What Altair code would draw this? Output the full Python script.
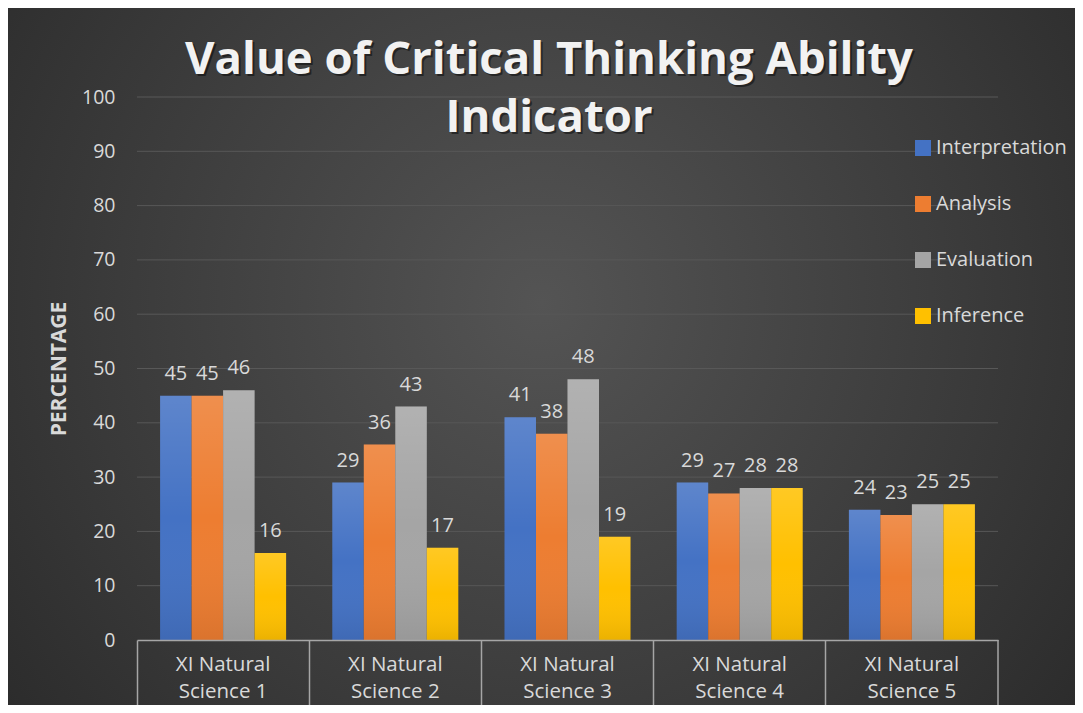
import altair as alt
import pandas as pd

categories = ["XI Natural Science 1", "XI Natural Science 2", "XI Natural Science 3",
              "XI Natural Science 4", "XI Natural Science 5"]
series = ["Interpretation", "Analysis", "Evaluation", "Inference"]
interpretation = [45, 29, 41, 29, 24]
analysis = [45, 36, 38, 27, 23]
evaluation = [46, 43, 48, 28, 25]
inference = [16, 17, 19, 28, 25]
colors = ["#4472c4", "#ed7d31", "#a5a5a5", "#ffc000"]
title_lines = ["Value of Critical Thinking Ability", "Indicator"]
y_ticks = list(range(0, 101, 10))

rows = []
for s, vals in zip(series, [interpretation, analysis, evaluation, inference]):
    for c, v in zip(categories, vals):
        rows.append({"category": c, "series": s, "value": v})
df = pd.DataFrame(rows)
one = pd.DataFrame({"a": [0]})
grid_df = pd.DataFrame({"value": y_ticks[1:]})

FONT = "Open Sans"
W, H = 861, 543
PL, PT, PR, PB = 129, 89, 77, 65

bg = alt.Chart(one).mark_rect(
    color=alt.RadialGradient(
        gradient="radial",
        stops=[alt.GradientStop(color="#545454", offset=0),
               alt.GradientStop(color="#3a3a3a", offset=0.55),
               alt.GradientStop(color="#242424", offset=1)],
        x1=0.5, y1=0.45, r1=0, x2=0.5, y2=0.45, r2=0.75)
).encode(x=alt.value(-PL), x2=alt.value(W + PR), y=alt.value(-PT), y2=alt.value(H + PB))

yscale = alt.Scale(domain=[0, 100], nice=False)

grid = alt.Chart(grid_df).mark_rule(color="#585858", strokeWidth=1).encode(
    y=alt.Y("value:Q", scale=yscale), x=alt.value(0), x2=alt.value(W))

xenc = alt.X("category:N", sort=categories, scale=alt.Scale(paddingInner=0, paddingOuter=0),
             axis=alt.Axis(title=None, bandPosition=0, tickSize=PB, tickColor="#a6a6a6",
                           tickWidth=1.5, domainColor="#a6a6a6", domainWidth=1.5,
                           labelExpr="['XI Natural', slice(datum.label, 11)]",
                           labelLineHeight=27, labelFontSize=20.5, labelColor="#d9d9d9",
                           labelFont=FONT, labelPadding=-51, labelAngle=0, grid=False,
                           zindex=1))
xoff = alt.XOffset("series:N", sort=series, scale=alt.Scale(paddingInner=0, paddingOuter=0.733))
yenc = alt.Y("value:Q", scale=yscale,
             axis=alt.Axis(values=y_ticks, title="PERCENTAGE", titleFontSize=21,
                           titleFont=FONT, titleFontWeight="bold", titleColor="#d9d9d9",
                           titlePadding=12, labelFontSize=19.5, labelColor="#d9d9d9",
                           labelFont=FONT, labelPadding=22, ticks=False, domain=False,
                           grid=False, zindex=1))

bars = alt.Chart(df).mark_bar().encode(
    x=xenc, xOffset=xoff, y=yenc,
    color=alt.Color("series:N", sort=series,
                    scale=alt.Scale(domain=series, range=colors),
                    legend=alt.Legend(title=None, orient="none", legendX=776, legendY=41,
                                      symbolType="square", symbolSize=256,
                                      symbolStrokeWidth=0, labelFontSize=20,
                                      labelColor="#d9d9d9", labelFont=FONT,
                                      rowPadding=36, labelOffset=3, symbolOpacity=1))
)

shade = alt.Chart(df).mark_bar(
    color=alt.LinearGradient(
        gradient="linear",
        stops=[alt.GradientStop(color="rgba(255,255,255,0.14)", offset=0),
               alt.GradientStop(color="rgba(255,255,255,0.0)", offset=0.5),
               alt.GradientStop(color="rgba(0,0,0,0.08)", offset=1)],
        x1=0, x2=0, y1=0, y2=1)
).encode(x=alt.X("category:N", sort=categories), xOffset=alt.XOffset("series:N", sort=series),
         y=alt.Y("value:Q"))

labels = alt.Chart(df).mark_text(
    baseline="alphabetic", dy=-16, fontSize=20, color="#d9d9d9", font=FONT
).encode(x=alt.X("category:N", sort=categories), xOffset=alt.XOffset("series:N", sort=series),
         y=alt.Y("value:Q"), text=alt.Text("value:Q"))

end_rule = alt.Chart(one).mark_rule(color="#a6a6a6", strokeWidth=1.5).encode(
    x=alt.value(W), y=alt.value(H), y2=alt.value(H + PB))

title_shadow = alt.Chart(one).mark_text(
    fontSize=45.5, fontWeight="bold", font=FONT, color="#000000", opacity=0.45,
    align="center", baseline="alphabetic", lineHeight=58
).encode(x=alt.value(414), y=alt.value(-21), text=alt.value(title_lines))

title = alt.Chart(one).mark_text(
    fontSize=45.5, fontWeight="bold", font=FONT, color="#f2f2f2",
    align="center", baseline="alphabetic", lineHeight=58
).encode(x=alt.value(412), y=alt.value(-23), text=alt.value(title_lines))

chart = alt.layer(bg, grid, bars, shade, labels, end_rule, title_shadow, title).properties(
    width=W, height=H,
    autosize=alt.AutoSizeParams(type="none"),
    padding={"left": PL, "top": PT, "right": PR, "bottom": PB},
    background="#2b2b2b"
).configure_view(stroke=None)

chart.save("out.html", embed_options={"renderer": "svg", "actions": False})
